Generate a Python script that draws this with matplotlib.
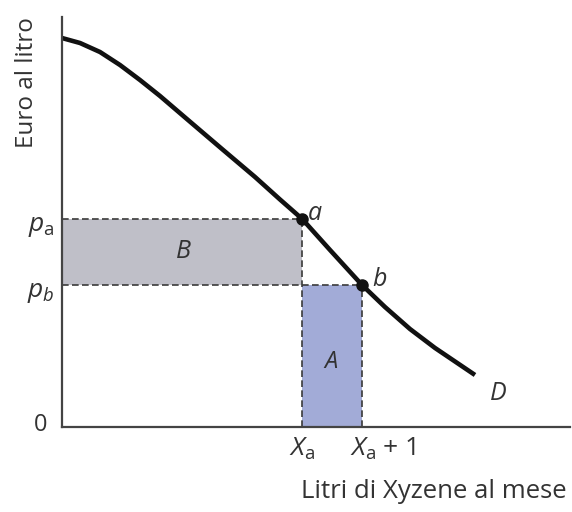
import numpy as np
from matplotlib import pyplot as plt

plt.rcParams.update({'font.family': 'Open Sans',
                     'mathtext.fontset': 'custom',
                     'mathtext.rm': 'Open Sans',
                     'mathtext.it': 'Open Sans:italic',
                     'text.color': '#333333'})

# demand curve D, litres per month vs euro per litre
quantity = [0.0, 0.3, 0.633, 0.967, 1.3, 1.633, 2.1, 2.667, 3.217, 3.633, 4.0,
            4.467, 5.0, 5.383, 5.8, 6.217, 6.883]
price = [6.483, 6.4, 6.25, 6.033, 5.783, 5.517, 5.117, 4.633, 4.167, 3.792, 3.47,
         2.95, 2.367, 2.0, 1.633, 1.317, 0.867]

x_a = 4.0
x_b = 5.0
p_a = 3.47
p_b = 2.367

col_B = '#bfbfc8'
col_A = '#a2abd7'
dash_col = '#3a3a3a'

fig = plt.figure(figsize=(5.72, 5.12), dpi=100)
ax = fig.add_axes([62/572, 85/512, 508/572, 410/512])
ax.set_xlim(0, 508/60)
ax.set_ylim(0, 410/60)

# areas A and B
ax.fill_between([0, x_a], p_b, p_a, color=col_B, lw=0)
ax.fill_between([x_a, x_b], 0, p_b, color=col_A, lw=0)

dash = dict(color=dash_col, lw=1.2, dashes=(4, 2))
ax.plot([0, x_a], [p_a, p_a], **dash)
ax.plot([0, x_b], [p_b, p_b], **dash)
ax.plot([x_a, x_a], [0, p_a], **dash)
ax.plot([x_b, x_b], [0, p_b], **dash)

ax.plot(quantity, price, color='#111111', lw=3.3, solid_capstyle='butt',
        solid_joinstyle='round')
ax.plot([x_a, x_b], [p_a, p_b], 'o', color='#111111', ms=8)

for s in ['top', 'right']:
    ax.spines[s].set_visible(False)
for s in ['left', 'bottom']:
    ax.spines[s].set_color('#444444')
    ax.spines[s].set_linewidth(1.6)
ax.set_xticks([])
ax.set_yticks([])

# labels
ax.text(-0.12, p_a - 0.2, r'$p_\mathrm{a}$', ha='right', va='baseline', fontsize=19)
ax.text(-0.12, p_b - 0.2, r'$p_b$', ha='right', va='baseline', fontsize=19)
ax.text(-0.25, 0.03, '0', ha='right', va='center', fontsize=17)
ax.text(x_a, -0.14, r'$X_\mathrm{a}$', ha='center', va='top', fontsize=19)
ax.text(x_b - 0.2, -0.14, r'$X_\mathrm{a}$ + 1', ha='left', va='top', fontsize=19)
ax.text(4.1, 3.55, 'a', style='italic', ha='left', va='center', fontsize=18)
ax.text(5.17, 2.45, 'b', style='italic', ha='left', va='center', fontsize=18)
ax.text(7.13, 0.55, 'D', style='italic', ha='left', va='center', fontsize=18)
ax.text(2.03, 2.93, 'B', style='italic', ha='center', va='center', fontsize=18)
ax.text(4.48, 1.08, 'A', style='italic', ha='center', va='center', fontsize=17)

fig.text(27/572, 1 - 83/512, 'Euro al litro', rotation=90, ha='center', va='center', fontsize=17.5)
fig.text(567/572, 1 - 492/512, 'Litri di Xyzene al mese', ha='right', va='center', fontsize=18.5)

fig.savefig('out.png', dpi=100)
